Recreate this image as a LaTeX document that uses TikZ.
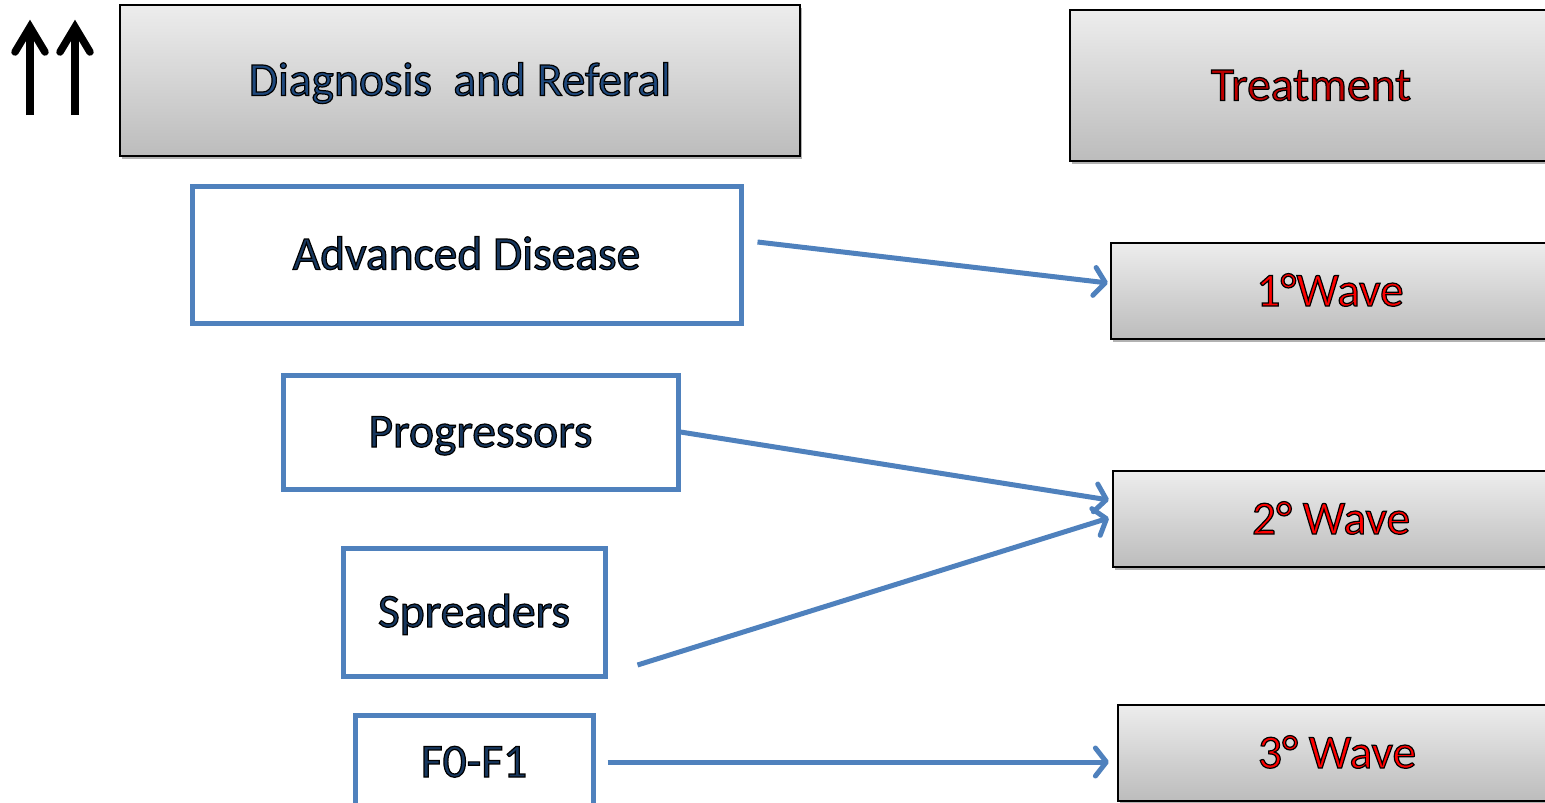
\documentclass[tikz,border=0pt]{standalone}
\usepackage{fontspec}
\setmainfont{Carlito}
\usetikzlibrary{arrows.meta,calc,shadows}
\definecolor{boxblue}{HTML}{4F81BD}
\definecolor{navytxt}{HTML}{17375E}
\definecolor{navyhd}{HTML}{1F497D}
\definecolor{dredtxt}{HTML}{C00000}
\definecolor{bredtxt}{HTML}{FF0000}
\definecolor{gtop}{HTML}{EDEDED}
\definecolor{gbot}{HTML}{BCBCBC}
\newcommand{\outltxt}[1]{\special{pdf:literal direct 0 0 0 RG 1.2 w 2 Tr}#1\special{pdf:literal direct 0 Tr}}
\tikzset{
  bigfont/.style={font=\fontsize{47.5}{50}\selectfont, text height=30pt, text depth=0pt, inner sep=0pt},
  graybox/.style={bigfont, draw=black, line width=2.2pt, top color=gtop, bottom color=gbot,
    drop shadow={shadow xshift=2pt, shadow yshift=-3pt, opacity=0.3, fill=black}},
  bluebox/.style={bigfont, draw=boxblue, line width=5pt, fill=white, text=navytxt},
  conn/.style={draw=boxblue, line width=5pt, -{Straight Barb[length=11pt,width=28pt,round]}},
  uparrow/.style={draw=black, line width=7.5pt}
}
\begin{document}
\begin{tikzpicture}[x=1pt,y=-1pt]
\useasboundingbox (0,0) rectangle (1545,803);
% up arrows
\draw[uparrow, line cap=butt] (30,115) -- (30,28);
\draw[uparrow, line cap=round, line join=miter] (15,52) -- (30,27) -- (45,52);
\draw[uparrow, line cap=butt] (75,115) -- (75,28);
\draw[uparrow, line cap=round, line join=miter] (60,52) -- (75,27) -- (90,52);
% header boxes
\node[graybox, minimum width=680pt, minimum height=151pt, text=navyhd] (diag) at (460,80.5) {\outltxt{Diagnosis\ \ and Referal}};
\node[graybox, minimum width=482pt, minimum height=151pt, text=dredtxt] (treat) at (1311,85.5) {\outltxt{Treatment}};
% wave boxes
\node[graybox, minimum width=438pt, minimum height=96pt, text=bredtxt] (w1) at (1330,291) {\outltxt{1°Wave}};
\node[graybox, minimum width=436pt, minimum height=96pt, text=bredtxt] (w2) at (1331,519) {\outltxt{2° Wave}};
\node[graybox, minimum width=438pt, minimum height=96pt, text=bredtxt] (w3) at (1337,753) {\outltxt{3° Wave}};
% blue boxes
\node[bluebox, minimum width=549pt, minimum height=137pt] (ad) at (466.5,254.5) {\outltxt{Advanced Disease}};
\node[bluebox, minimum width=395pt, minimum height=114pt] (pr) at (480.5,432) {\outltxt{Progressors}};
\node[bluebox, minimum width=262pt, minimum height=128pt] (sp) at (474,612) {\outltxt{Spreaders}};
\node[bluebox, minimum width=238pt, minimum height=94pt] (f0) at (474,762) {\outltxt{F0-F1}};
% connectors
\draw[conn] ($(ad.east)+(14,-12.5)$) -- ($(w1.west)+(-2,-8)$);
\draw[conn] (pr.east) -- ($(w2.west)+(-3,-19)$);
\draw[conn] ($(sp.east)+(30,53)$) -- ($(w2.west)+(-3,-1)$);
\draw[conn] ($(f0.east)+(12,0)$) -- ($(w3.west)+(-8,9)$);
\end{tikzpicture}
\end{document}
